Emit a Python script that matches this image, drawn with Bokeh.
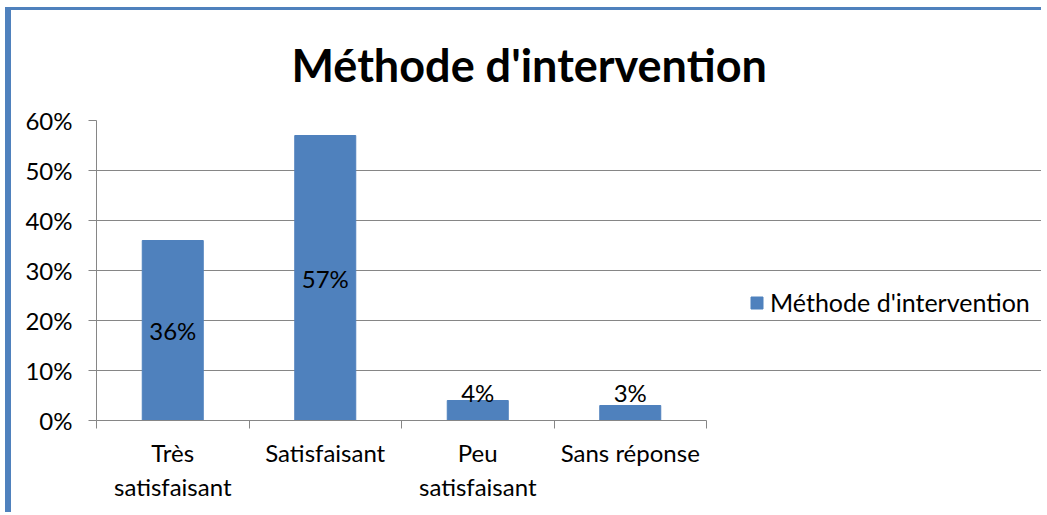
from bokeh.plotting import figure
from bokeh.models import (ColumnDataSource, FixedTicker, NumeralTickFormatter,
                          Range1d, Legend, LegendItem)
from bokeh.embed import file_html
from bokeh.resources import INLINE

# ---- data ----
categories = ["Très\nsatisfaisant", "Satisfaisant", "Peu\nsatisfaisant", "Sans réponse"]
values = [0.36, 0.57, 0.04, 0.03]
labels = ["36%", "57%", "4%", "3%"]
series_name = "Méthode d'intervention"
title_text = "Méthode d'intervention"
y_ticks = [0.0, 0.1, 0.2, 0.3, 0.4, 0.5, 0.6]

FONT = "Lato"
BAR = "#4F81BD"
GRAY = "#868686"

n = len(categories)
centers = [i + 0.5 for i in range(n)]
bounds = [float(i) for i in range(n + 1)]
label_y = [v / 2 if v > 0.1 else 0.056 for v in values]

src = ColumnDataSource(dict(x=centers, top=values, lab=labels, ly=label_y))

# frame spans the whole chart width; the plot area itself covers 610 px of 947
x_end = n * 947 / 610

p = figure(width=1036, height=505, output_backend="svg", toolbar_location=None,
           x_range=Range1d(0, x_end), y_range=Range1d(0, 0.6),
           min_border_left=85, min_border_right=4, min_border_top=110,
           min_border_bottom=95,
           styles={"margin-left": "5px", "margin-top": "7px",
                   "border-left": "6px solid #4F81BD", "border-top": "3px solid #4F81BD"})
p.outline_line_color = None
p.background_fill_color = "white"
p.border_fill_color = "white"

p.title.text = title_text
p.title.text_font = FONT
p.title.text_font_size = "45px"
p.title.text_font_style = "bold"
p.title.align = "left"
p.title.vertical_align = "top"
p.title.offset = 195
p.title.standoff = 54
p.title.text_color = "black"

r = p.vbar(x="x", top="top", width=0.4, bottom=0, source=src, color=BAR)

p.text(x="x", y="ly", text="lab", source=src, text_align="center",
       text_baseline="middle", text_font_size="24px", text_color="black",
       text_font={"value": FONT})

# axes
p.xaxis.ticker = FixedTicker(ticks=centers, minor_ticks=bounds)
p.xaxis.bounds = (0, n)
p.xaxis.major_label_overrides = {c: lab for c, lab in zip(centers, categories)}
p.xaxis.major_tick_out = 0
p.xaxis.major_tick_in = 0
p.xaxis.minor_tick_out = 8
p.xaxis.minor_tick_in = 0
p.xaxis.minor_tick_line_color = GRAY
p.xaxis.axis_line_color = GRAY
p.xaxis.major_label_text_font = FONT
p.xaxis.major_label_text_font_size = "24px"
p.xaxis.major_label_text_color = "black"
p.xaxis.major_label_standoff = 9

p.yaxis.ticker = FixedTicker(ticks=y_ticks)
p.yaxis.formatter = NumeralTickFormatter(format="0%")
p.yaxis.major_tick_out = 8
p.yaxis.major_tick_in = 0
p.yaxis.minor_tick_out = 0
p.yaxis.minor_tick_in = 0
p.yaxis.major_tick_line_color = GRAY
p.yaxis.axis_line_color = GRAY
p.yaxis.major_label_text_font = FONT
p.yaxis.major_label_text_font_size = "24px"
p.yaxis.major_label_text_color = "black"
p.yaxis.major_label_standoff = 16

p.xgrid.grid_line_color = None
p.ygrid.grid_line_color = GRAY
p.ygrid.ticker = FixedTicker(ticks=y_ticks)
p.ygrid.bounds = (0, n)

legend = Legend(items=[LegendItem(label=series_name, renderers=[r])],
                location=(653, 103), border_line_color=None,
                background_fill_alpha=0, label_text_font=FONT,
                label_text_font_size="25px", label_text_color="black",
                glyph_width=15, glyph_height=15,
                label_standoff=6, padding=0, margin=0)
p.add_layout(legend, "center")

open("out.html", "w").write(file_html(p, INLINE))
